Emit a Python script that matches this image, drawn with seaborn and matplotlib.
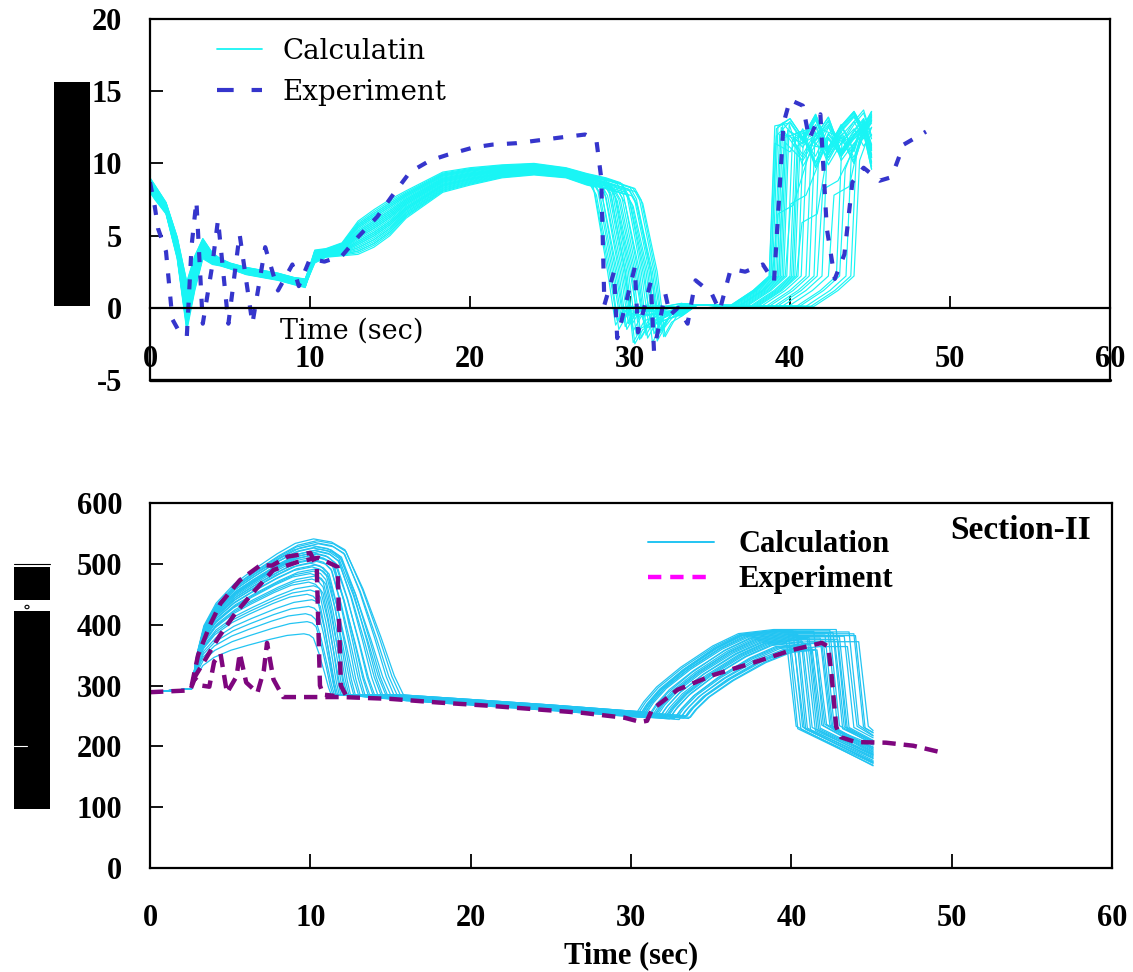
import numpy as np
import pandas as pd
import matplotlib
matplotlib.use("Agg")
import matplotlib.pyplot as plt
from matplotlib.lines import Line2D
from matplotlib.patches import Rectangle, Circle
import seaborn as sns

# ---------------------------------------------------------------- data
# ---- upper panel: calculation ensemble (velocity-like signal) ----
# early transient envelopes (t = 0 .. 9.7 s)
TA = [0.0, 0.3, 1.0, 1.7, 2.3, 2.8, 3.3, 3.9, 4.4, 5.0, 6.0, 7.0, 8.0, 9.0, 9.7]
A_LO = [8.0, 7.5, 6.5, 3.4, -1.6, 1.2, 3.4, 3.0, 2.9, 2.7, 2.3, 2.1, 1.9, 1.6, 1.4]
A_HI = [9.0, 8.5, 7.3, 4.9, 1.8, 3.6, 4.8, 3.8, 3.4, 3.1, 2.8, 2.6, 2.4, 2.1, 2.0]
# slow build-up envelopes (t = 10.3 .. 30.4 s)
TB = [10.3, 11.0, 12.0, 13.0, 14.0, 15.0, 16.0, 18.3, 20.0, 22.0, 24.0, 26.0, 27.3, 28.5, 30.4]
B_LO = [3.1, 3.5, 3.6, 3.7, 4.2, 5.0, 6.2, 8.0, 8.5, 9.0, 9.2, 9.0, 8.5, 8.2, 7.6]
B_HI = [4.0, 4.1, 4.5, 6.0, 6.8, 7.5, 8.1, 9.4, 9.7, 9.9, 10.0, 9.7, 9.3, 9.0, 8.3]
# per-run parameters
W_EARLY = [0.0, 0.55, 0.2, 0.85, 0.35, 0.95, 0.1, 0.65, 0.45, 0.75, 0.25, 1.0, 0.6, 0.15,
           0.9, 0.4, 0.7, 0.05, 0.5, 0.8, 0.3, 0.98, 0.62, 0.18, 0.88, 0.42, 0.72, 0.08,
           0.52, 0.82, 0.28, 0.68, 0.38, 0.58]
W_MID = [0.9, 0.3, 0.7, 0.1, 0.5, 0.95, 0.2, 0.6, 0.4, 0.8, 0.0, 0.65, 0.35, 0.85,
         0.15, 0.55, 1.0, 0.25, 0.75, 0.45, 0.05, 0.6, 0.9, 0.3, 0.7, 0.1, 0.5, 0.8,
         0.2, 0.4, 0.65, 0.35, 0.85, 0.55]
DROP_START = [27.3, 28.9, 27.8, 30.1, 28.4, 29.5, 27.5, 30.4, 28.7, 29.2, 27.9, 29.9,
              28.2, 30.2, 28.8, 27.6, 29.4, 29.7, 28.5, 27.7, 29.8, 28.3, 30.3, 29.0,
              28.0, 29.3, 30.0, 28.6, 28.1, 29.6, 28.4, 27.4, 30.0, 29.1]
V_MIN = [-1.2, -2.1, -0.9, -1.7, -2.4, -1.0, -1.5, -2.0, -0.8, -1.9, -1.3, -2.3, -1.1,
         -1.6, -2.2, -0.9, -1.4, -1.8, -2.5, -1.0, -1.7, -1.2, -2.0, -0.8, -1.5, -2.1,
         -1.3, -1.9, -1.1, -2.4, -1.6, -0.9, -1.8, -1.4]
V_SETTLE = [-0.3, 0.1, -0.5, 0.2, -0.1, 0.3, -0.4, 0.0, -0.6, 0.2, -0.2, 0.1, -0.3,
            0.3, -0.5, 0.0, -0.1, 0.2, -0.4, 0.1, -0.2, 0.3, -0.6, 0.0, -0.3, 0.2,
            -0.1, 0.1, -0.5, 0.3, -0.2, 0.0, -0.4, 0.2]
T_STEEP = [38.7, 39.3, 40.5, 38.9, 41.2, 39.6, 42.4, 39.0, 40.1, 43.5, 38.8, 39.8, 41.7,
           39.2, 40.3, 44.0, 39.5, 38.7, 42.9, 40.0, 39.1, 41.0, 39.4, 43.1, 40.7, 38.9,
           39.7, 42.0, 40.2, 39.3, 41.5, 38.8, 43.8, 40.4]
RISE_TOP = [12.6, 11.8, 12.2, 6.5, 11.5, 12.7, 7.8, 12.0, 11.2, 11.0, 12.4, 11.6, 8.2,
            12.8, 11.9, 10.2, 12.3, 11.4, 11.6, 12.1, 12.5, 11.7, 12.0, 9.6, 11.3, 12.6,
            7.2, 11.8, 12.2, 11.5, 12.4, 11.9, 10.8, 5.9]
PATTERN = [0, 1, 2, 3, 1, 2, 3, 0, 2, 3, 0, 1, 3, 0, 1, 2, 0, 1, 2, 3, 2, 3, 0, 1,
           3, 0, 1, 2, 1, 2, 3, 0, 2, 3]
PLAT_OFF = [0.3, -0.4, 0.1, -0.8, 0.5, -0.2, 0.0, -0.6, 0.4, -0.3, 0.6, -0.5, 0.2, -0.1,
            0.3, -0.7, 0.5, -0.2, 0.1, -0.4, 0.4, -0.6, 0.2, -0.3, 0.0, 0.6, -0.5, 0.3,
            -0.1, 0.2, -0.8, 0.4, -0.2, 0.1]
TC = [40.0, 40.8, 41.6, 42.4, 43.2, 44.0, 44.6, 45.1]
PLATEAUS = [[12.5, 11.2, 12.8, 10.5, 12.0, 13.0, 11.8, 12.6],
            [11.0, 12.6, 10.2, 12.2, 11.0, 12.4, 13.2, 11.4],
            [12.0, 10.0, 11.5, 12.8, 10.4, 11.6, 12.2, 13.2],
            [10.5, 12.0, 12.9, 11.0, 12.6, 10.8, 12.9, 10.4]]

# ---- upper panel: measurement ----
EXP1_T = [0.0, 0.3, 0.5, 1.0, 1.4, 1.8, 2.3, 2.6, 2.9, 3.3, 3.9, 4.25, 4.9, 5.6, 6.4,
          7.2, 8.0, 8.9, 9.3, 10.0, 10.9, 12.0, 13.0, 14.2, 15.1, 16.25, 17.5, 18.6,
          20.2, 21.4, 22.9, 24.3, 25.7, 27.2, 27.9, 28.2, 28.4, 29.0, 29.2, 30.3, 30.5,
          31.3, 31.5, 32.2, 32.5, 33.0, 33.6, 34.1, 35.1, 35.6, 36.3, 37.2, 38.3, 39.0,
          39.6, 40.0, 40.8, 41.2, 41.9, 42.3, 42.8, 43.4, 43.9, 44.6, 45.6, 46.2, 46.6,
          47.1, 48.5]
EXP1_V = [8.7, 7.0, 5.5, 3.9, -0.8, -1.6, -2.0, 4.3, 7.4, -1.1, 3.0, 6.1, -1.1, 5.1,
          -1.1, 4.2, 1.2, 3.0, 1.5, 3.4, 3.2, 3.6, 4.9, 6.3, 7.7, 9.4, 10.2, 10.6, 11.1,
          11.3, 11.4, 11.6, 11.8, 12.0, 11.6, 9.0, 0.2, 2.5, -2.1, 2.8, -1.7, 1.8, -3.0,
          1.0, -0.5, 0.0, -1.1, 1.9, 1.0, -0.2, 2.7, 2.5, 3.0, 1.8, 12.8, 14.4, 14.0,
          11.7, 13.4, 5.5, 2.0, 3.7, 8.7, 9.7, 8.8, 9.0, 9.8, 11.3, 12.2]

# ---- lower panel: calculation ensemble (temperature-like signal) ----
RISE_S = [0.0, 0.04, 0.1, 0.2, 0.35, 0.5, 0.7, 0.85, 1.0]
RISE_F = [0.0, 0.22, 0.42, 0.57, 0.7, 0.79, 0.9, 0.97, 1.0]
DROP_U = [0.0, 0.2, 0.35, 0.55, 0.75, 0.9, 1.0]
DROP_G = [0.0, 0.02, 0.07, 0.32, 0.63, 0.88, 1.0]
DECL_T = [16.0, 20.0, 25.0, 29.0, 31.0, 34.0]
DECL_V = [284, 277, 268, 260, 256, 250]
RISE2_DT = [0.0, 0.4, 1.2, 2.7, 4.7, 6.3, 8.5, 20.0]
RISE2_F = [0.0, 0.12, 0.3, 0.54, 0.8, 0.95, 1.0, 1.0]
PEAK1 = [541, 538, 535, 533, 530, 528, 526, 524, 522, 520, 518, 516, 514, 512, 510, 507,
         504, 501, 498, 495, 492, 488, 484, 480, 475, 470, 464, 457, 450, 441, 430, 418,
         405, 385]
T_PEAK1 = [10.2, 10.4, 10.3, 10.5, 10.1, 10.4, 10.2, 10.6, 10.3, 10.5, 10.2, 10.4, 10.1,
           10.3, 10.5, 10.2, 10.4, 10.0, 10.3, 10.1, 10.4, 10.2, 10.0, 10.3, 10.1, 9.9,
           10.2, 10.0, 9.8, 10.1, 9.9, 9.7, 9.8, 9.6]
T_COOL1 = [15.8, 15.6, 15.4, 15.2, 15.0, 14.8, 14.7, 14.5, 14.4, 14.2, 14.0, 13.9, 13.7,
           13.6, 13.4, 13.3, 13.1, 13.0, 12.8, 12.7, 12.5, 12.4, 12.3, 12.2, 12.1, 12.0,
           11.9, 11.8, 11.7, 11.6, 11.6, 11.5, 11.4, 11.3]
DECL_OFF = [0, -2, -4, -1, -6, -3, -8, -5, -2, -7, -1, -4, -9, -3, -6, 0, -5, -8, -2, -4,
            -7, -1, -3, -6, -9, -2, -5, -8, 0, -4, -7, -3, -1, -6]
T_ONSET2 = [30.4, 31.9, 30.8, 33.2, 31.3, 32.5, 30.6, 33.6, 31.6, 32.1, 30.5, 32.9, 31.1,
            33.4, 31.8, 30.9, 32.3, 33.0, 31.5, 30.7, 32.7, 31.2, 33.7, 32.0, 30.5, 31.7,
            33.3, 32.4, 31.0, 32.8, 31.4, 30.6, 33.5, 32.2]
PEAK2 = [392, 377, 388, 365, 383, 372, 390, 361, 380, 376, 391, 368, 385, 363, 378, 387,
         374, 367, 381, 389, 370, 384, 360, 376, 390, 379, 364, 373, 386, 369, 382, 389,
         362, 375]
T_COOL2 = [42.8, 41.0, 43.6, 40.2, 42.1, 44.2, 39.8, 41.5, 43.0, 40.6, 42.4, 41.2, 43.9,
           40.0, 41.8, 42.6, 39.7, 40.9, 43.3, 41.4, 42.0, 40.4, 41.6, 42.9, 40.1, 41.1,
           43.5, 40.7, 42.3, 41.9, 44.0, 40.3, 41.3, 42.7]
LOW2 = [232, 228, 235, 230, 226, 233, 229, 236, 231, 227, 234, 230, 232, 228, 235, 229,
        233, 226, 231, 234, 228, 230, 236, 227, 232, 229, 233, 231, 226, 234, 230, 228,
        235, 232]
END2 = [208, 185, 218, 174, 199, 226, 169, 191, 210, 180, 203, 187, 222, 172, 195, 205,
        168, 183, 214, 190, 198, 177, 193, 209, 173, 186, 217, 181, 202, 196, 223, 175,
        188, 206]

# ---- lower panel: measurements (three thermocouple traces) ----
EXP2_T = [0.0, 2.5, 2.8, 3.2, 3.7, 4.0, 4.4, 4.8, 5.4, 5.6, 6.0, 6.7, 7.1, 7.3, 7.7, 8.3,
          10.0, 12.0, 15.0, 18.0, 21.0, 24.0, 27.0, 29.6, 30.6, 31.0, 31.3, 32.9, 35.1,
          37.8, 40.0, 41.9, 42.3, 42.5, 42.8, 43.1, 44.0, 45.9, 47.6, 49.2]
EXP2_V = [289, 292, 312, 300, 298, 339, 352, 288, 315, 353, 305, 288, 325, 370, 310, 281,
          281, 281, 278, 272, 267, 261, 255, 247, 240, 242, 260, 293, 317, 339, 358, 370,
          364, 320, 232, 215, 207, 206, 201, 191]
EXP3_T = [2.6, 3.0, 3.75, 4.4, 5.6, 6.9, 7.6, 8.6, 10.0, 10.4, 10.6, 10.8, 11.5]
EXP3_V = [300, 350, 400, 435, 473, 498, 497, 512, 518, 495, 300, 285, 283]
EXP4_T = [2.7, 3.5, 4.3, 5.3, 6.5, 7.7, 9.2, 10.5, 11.7, 11.9, 12.2]
EXP4_V = [310, 345, 380, 418, 455, 490, 503, 510, 495, 300, 285]

X_TICKS = [0, 10, 20, 30, 40, 50, 60]
Y_TICKS_TOP = [-5, 0, 5, 10, 15, 20]
Y_TICKS_BOT = [0, 100, 200, 300, 400, 500, 600]


# ---------------------------------------------------------------- run builders
def upper_run(i):
    t = list(TA)
    v = [lo + W_EARLY[i] * (hi - lo) for lo, hi in zip(A_LO, A_HI)]
    ts = DROP_START[i]

    def mid(x):
        lo = np.interp(x, TB, B_LO)
        return lo + W_MID[i] * (np.interp(x, TB, B_HI) - lo)

    for tb in TB:
        if tb < ts:
            t.append(tb)
            v.append(mid(tb))
    v_ts = mid(ts)
    t += [ts, ts + 0.4, ts + 1.3, ts + 1.8, ts + 2.3, 33.2, 34.2]
    v += [v_ts, v_ts - 0.8, 2.5, V_MIN[i], V_MIN[i] + 1.0, V_SETTLE[i], 0.2]
    tr = T_STEEP[i]
    t += [tr - 2.5, tr - 1.0, tr, tr + 0.35]
    v += [0.1, 1.2, 2.2, RISE_TOP[i]]
    start = tr + 0.9
    if RISE_TOP[i] < 9.0:
        t.append(tr + 1.3)
        v.append(RISE_TOP[i] + 0.6)
        start = tr + 1.9
    pat = PLATEAUS[PATTERN[i]]
    for tc, pv in zip(TC, pat):
        if tc > start:
            t.append(tc)
            v.append(pv + PLAT_OFF[i])
    return t, v


def lower_run(i):
    t0, v0 = 2.6, 295.0
    tp, pk, te = T_PEAK1[i], PEAK1[i], T_COOL1[i]
    t = [0.0, 1.5]
    v = [290.0, 292.0]
    t += [t0 + s * (tp - t0) for s in RISE_S]
    v += [v0 + f * (pk - v0) for f in RISE_F]
    t += [tp + u * (te - tp) for u in DROP_U[1:]]
    v += [pk - g * (pk - 285.0) for g in DROP_G[1:]]
    ton = T_ONSET2[i]
    for dt, dv in zip(DECL_T, DECL_V):
        if te < dt < ton:
            t.append(dt)
            v.append(dv + DECL_OFF[i])
    von = np.interp(ton, DECL_T, DECL_V) + DECL_OFF[i]
    td = T_COOL2[i]
    for dt, fr in zip(RISE2_DT, RISE2_F):
        if ton + dt < td:
            t.append(ton + dt)
            v.append(von + fr * (PEAK2[i] - von))
    t.append(td)
    v.append(von + np.interp(td - ton, RISE2_DT, RISE2_F) * (PEAK2[i] - von))
    t += [td + 0.6, 45.1]
    v += [LOW2[i], END2[i]]
    return t, v


def runs_frame(builder, n):
    rows = []
    for i in range(n):
        tt, vv = builder(i)
        rows.append(pd.DataFrame({"t": tt, "v": vv, "run": i}))
    return pd.concat(rows, ignore_index=True)


upper_df = runs_frame(upper_run, len(W_EARLY))
lower_df = runs_frame(lower_run, len(PEAK1))

# ---------------------------------------------------------------- style
sns.set_theme(style="ticks")
plt.rcParams["font.family"] = ["Liberation Serif", "DejaVu Serif"]
plt.rcParams["axes.unicode_minus"] = False
plt.rcParams["text.color"] = "black"
plt.rcParams["axes.labelcolor"] = "black"

W, H = 1133, 972
fig = plt.figure(figsize=(W / 100, H / 100), dpi=100)
fig.patch.set_facecolor("white")


def px_box(x0, y0, x1, y1):
    return [x0 / W, 1 - y1 / H, (x1 - x0) / W, (y1 - y0) / H]


tick_font = dict(family="Liberation Serif", weight="bold", size=22)

CYAN = "#19F5F5"
SKY = "#22C4F2"
BLUE = "#3535CC"
PURPLE = "#7E067E"

# ---------------------------------------------------------------- upper panel
ax1 = fig.add_axes(px_box(150, 19, 1110, 380))
sns.lineplot(data=upper_df, x="t", y="v", units="run", estimator=None, sort=False,
             color=CYAN, lw=0.85, ax=ax1, legend=False)
sns.lineplot(x=EXP1_T, y=EXP1_V, sort=False, color=BLUE, lw=3.0, dashes=(2.4, 3.2),
             ax=ax1, legend=False)
ax1.set_xlim(0, 60)
ax1.set_ylim(-5, 20)
ax1.spines["bottom"].set_position(("data", 0))
ax1.axhline(-5, color="black", lw=2.4, clip_on=False, zorder=5)
for s in ["top", "right", "left", "bottom"]:
    ax1.spines[s].set_linewidth(1.6)
    ax1.spines[s].set_color("black")
ax1.set_xticks(X_TICKS)
ax1.set_yticks(Y_TICKS_TOP)
ax1.set_xticklabels([str(x) for x in X_TICKS], fontdict=tick_font)
ax1.set_yticklabels([str(y) for y in Y_TICKS_TOP], fontdict=tick_font)
ax1.tick_params(axis="x", direction="in", length=9, width=1.3, pad=27, colors="black")
ax1.tick_params(axis="y", direction="in", length=9, width=1.3, pad=20, colors="black")
ax1.set_xlabel("")
ax1.set_ylabel("")
ax1.text(8.1, -1.6, "Time (sec)", family="DejaVu Serif", size=19.5, va="center",
         ha="left", color="black")
h1 = [Line2D([], [], color=CYAN, lw=1.3),
      Line2D([], [], color=BLUE, lw=3.0, dashes=(4, 4.3))]
leg1 = ax1.legend(h1, ["Calculatin", "Experiment"], loc="upper left",
                  bbox_to_anchor=(0.0698, 0.948), frameon=False, borderpad=0,
                  borderaxespad=0, handlelength=1.62, handletextpad=0.72,
                  labelspacing=0.52, prop=dict(family="DejaVu Serif", size=20))

# ---------------------------------------------------------------- lower panel
ax2 = fig.add_axes(px_box(150, 503, 1112, 868))
sns.lineplot(data=lower_df, x="t", y="v", units="run", estimator=None, sort=False,
             color=SKY, lw=0.9, ax=ax2, legend=False)
for et, ev in [(EXP2_T, EXP2_V), (EXP3_T, EXP3_V), (EXP4_T, EXP4_V)]:
    sns.lineplot(x=et, y=ev, sort=False, color=PURPLE, lw=3.2, dashes=(3.0, 1.8),
                 ax=ax2, legend=False)
ax2.set_xlim(0, 60)
ax2.set_ylim(0, 600)
for s in ["top", "right", "left", "bottom"]:
    ax2.spines[s].set_linewidth(1.6)
    ax2.spines[s].set_color("black")
ax2.set_xticks(X_TICKS)
ax2.set_yticks(Y_TICKS_BOT)
ax2.set_xticklabels([str(x) for x in X_TICKS], fontdict=tick_font)
ax2.set_yticklabels([str(y) for y in Y_TICKS_BOT], fontdict=tick_font)
ax2.tick_params(axis="x", direction="in", length=10, width=1.3, pad=26, colors="black")
ax2.tick_params(axis="y", direction="in", length=9, width=1.3, pad=20, colors="black")
ax2.set_xlabel("Time (sec)", family="Liberation Serif", weight="bold", size=22,
               labelpad=6)
ax2.set_ylabel("")
ax2.text(0.978, 0.926, "Section-II", transform=ax2.transAxes, family="Liberation Serif",
         weight="bold", size=24, ha="right", va="center")
h2 = [Line2D([], [], color=SKY, lw=1.4),
      Line2D([], [], color="#FF00FF", lw=3.2, dashes=(3.0, 2.0))]
leg2 = ax2.legend(h2, ["Calculation", "Experiment"], loc="upper left",
                  bbox_to_anchor=(0.518, 0.925), frameon=False, borderpad=0,
                  borderaxespad=0, handlelength=2.16, handletextpad=0.78,
                  labelspacing=0.2,
                  prop=dict(family="Liberation Serif", weight="bold", size=22))

# ---------------------------------------------------------------- masked axis titles
for (x0, y0, x1, y1) in [(54, 82, 90, 306), (14, 567, 50, 600), (14, 611, 50, 809)]:
    fig.add_artist(Rectangle((x0 / W, 1 - y1 / H), (x1 - x0) / W, (y1 - y0) / H,
                             transform=fig.transFigure, color="black", lw=0))
fig.add_artist(Line2D([14 / W, 50 / W], [1 - 564.5 / H] * 2, transform=fig.transFigure,
                      color="black", lw=0.8))
fig.add_artist(Line2D([14 / W, 27 / W], [1 - 746 / H] * 2, transform=fig.transFigure,
                      color="white", lw=0.8))
fig.add_artist(Circle((27 / W, 1 - 607 / H), 2.0 / W, transform=fig.transFigure,
                      facecolor="white", edgecolor="black", lw=0.8))

fig.savefig("out.png", dpi=100, facecolor="white")
